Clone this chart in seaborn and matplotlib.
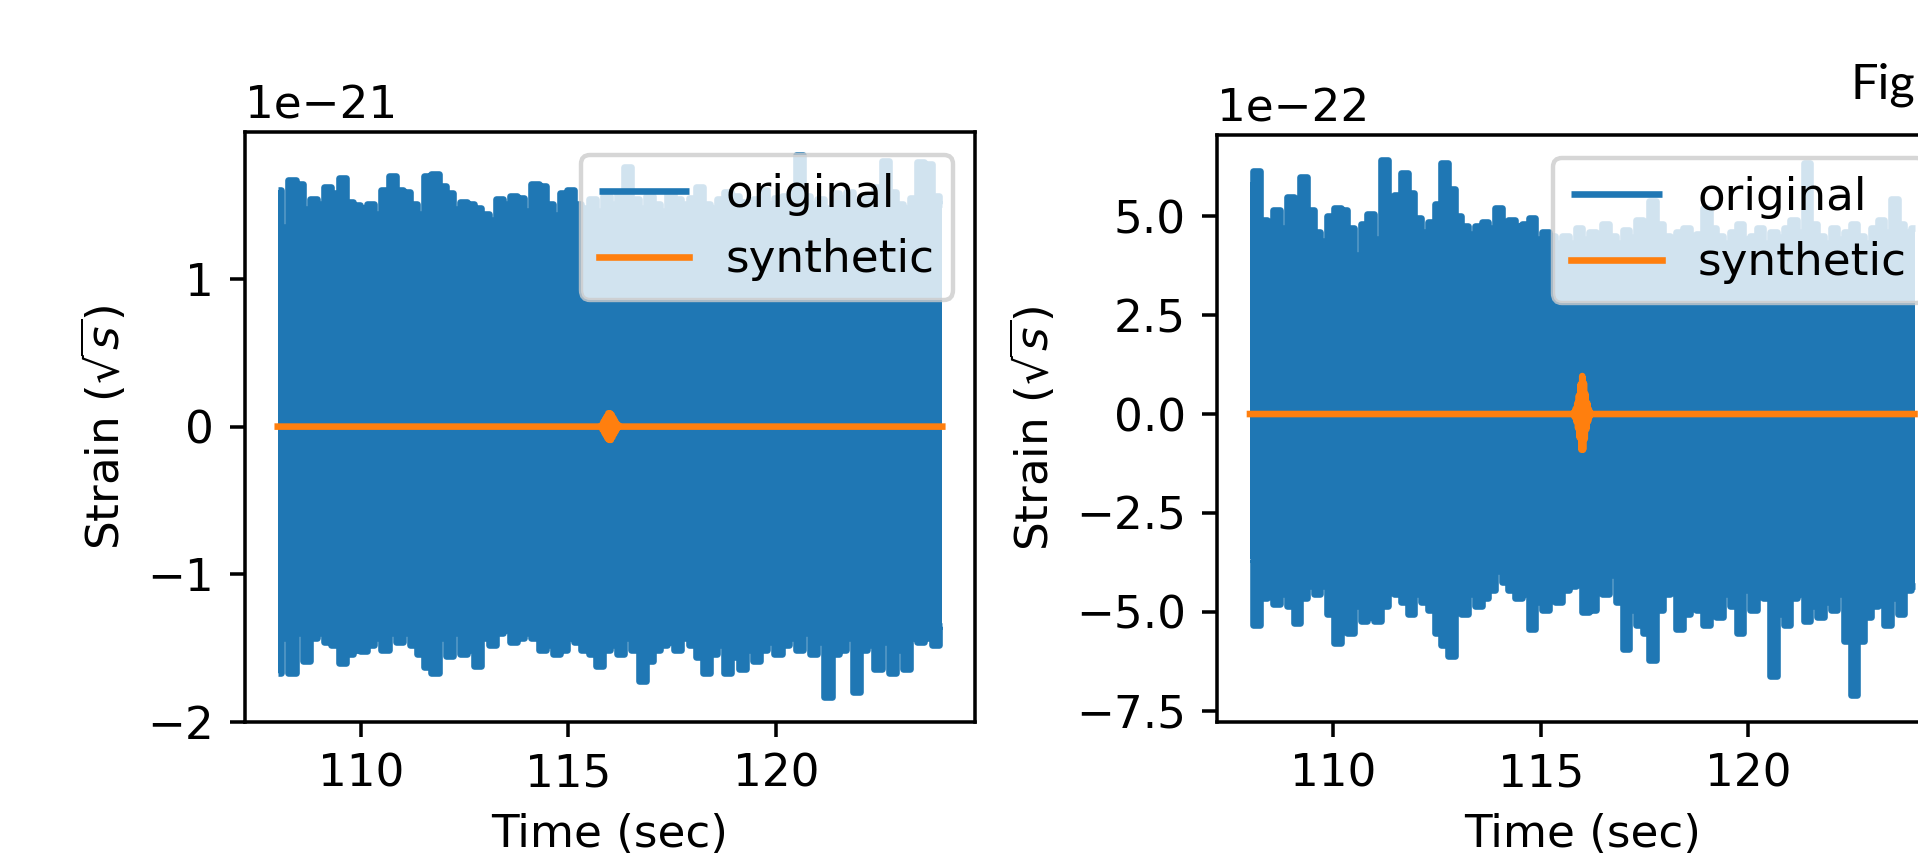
import numpy as np
import pandas as pd
import matplotlib
matplotlib.use("Agg")
import matplotlib.pyplot as plt
import seaborn as sns

# ---------------- data ----------------
t_start, t_end = 108.0, 124.0

# left panel, units of 1e-21 : peak values of the noisy "original" strain
upper_left = [1.60, 1.35, 1.67, 1.64, 1.47, 1.54, 1.51, 1.62, 1.58, 1.68,
              1.52, 1.50, 1.48, 1.51, 1.44, 1.60, 1.70, 1.60, 1.59, 1.51,
              1.44, 1.70, 1.71, 1.63, 1.58, 1.47, 1.52, 1.51, 1.48, 1.44,
              1.40, 1.54, 1.51, 1.56, 1.55, 1.46, 1.64, 1.63, 1.51, 1.43,
              1.58, 1.60, 1.51, 1.48, 1.54, 1.46, 1.56, 1.51, 1.59, 1.76,
              1.54, 1.48, 1.56, 1.51, 1.46, 1.58, 1.54, 1.51, 1.55, 1.62,
              1.51, 1.48, 1.54, 1.59, 1.56, 1.52, 1.48, 1.54, 1.60, 1.51,
              1.55, 1.56, 1.59, 1.84, 1.56, 1.51, 1.54, 1.48, 1.58, 1.55,
              1.59, 1.51, 1.54, 1.56, 1.62, 1.80, 1.59, 1.51, 1.48, 1.55,
              1.79, 1.78, 1.56, 1.51]
lower_left = [-1.67, -1.43, -1.67, -1.40, -1.59, -1.43, -1.40, -1.46, -1.48,
              -1.60, -1.54, -1.51, -1.52, -1.48, -1.43, -1.51, -1.40, -1.46, -1.40,
              -1.48, -1.54, -1.63, -1.67, -1.43, -1.55, -1.40, -1.54, -1.51, -1.62,
              -1.43, -1.48, -1.40, -1.38, -1.46, -1.43, -1.40, -1.43, -1.51, -1.48,
              -1.54, -1.51, -1.43, -1.46, -1.51, -1.54, -1.62, -1.51, -1.48, -1.54,
              -1.43, -1.51, -1.72, -1.59, -1.51, -1.48, -1.46, -1.51, -1.43, -1.48,
              -1.56, -1.67, -1.54, -1.48, -1.67, -1.56, -1.64, -1.51, -1.59, -1.51,
              -1.46, -1.54, -1.48, -1.43, -1.51, -1.40, -1.54, -1.46, -1.83, -1.54,
              -1.51, -1.43, -1.80, -1.51, -1.48, -1.64, -1.46, -1.67, -1.51, -1.64,
              -1.43, -1.46, -1.43, -1.48, -1.35]

# right panel, units of 1e-22
upper_right = [5.79, 6.13, 4.90, 4.36, 5.15, 4.70, 5.49, 5.15, 5.98, 5.15,
               4.61, 4.36, 5.00, 5.20, 5.15, 4.70, 4.02, 4.80, 5.05, 4.41,
               6.43, 4.70, 5.54, 6.08, 5.59, 4.95, 4.61, 4.85, 5.30, 6.33,
               5.69, 5.00, 4.75, 4.56, 4.75, 4.85, 4.70, 5.20, 4.41, 4.90,
               4.75, 4.80, 4.95, 4.41, 4.61, 4.51, 4.31,
               4.51, 4.31, 4.70, 4.41, 4.61, 4.21, 4.80, 4.51, 4.31, 4.66,
               4.46, 4.90, 4.70, 5.39, 4.80, 4.51, 4.31, 4.61, 4.70, 4.41,
               4.56, 5.20, 4.70, 4.51, 4.31, 4.61, 4.80, 4.41, 4.51, 4.70,
               4.31, 4.61, 4.46, 4.70, 4.90, 4.61, 6.33, 4.80, 4.51, 4.31,
               4.70, 4.41, 4.61, 4.80, 4.51, 4.31, 4.70, 4.90, 4.61, 5.44,
               4.80, 4.61, 4.70]
lower_right = [-3.66, -5.33, -4.65, -4.55, -4.79, -4.55, -4.84, -5.29, -4.65, -4.35,
               -4.55, -4.35, -5.04, -5.78, -4.30, -5.53, -4.84, -5.24, -5.14, -5.24,
               -4.84, -3.96, -4.55, -4.74, -5.04, -4.55, -4.74, -4.94, -5.53, -5.83,
               -6.12, -4.74, -5.04, -4.55, -4.84, -4.65, -4.45, -3.96, -4.25, -4.45,
               -4.65, -4.55, -5.43, -4.74, -4.94, -4.55, -4.74, -4.45, -4.35, -3.96,
               -4.99, -4.94, -3.96, -4.55, -4.06, -4.74, -5.93, -4.94, -5.33, -5.53,
               -6.22, -4.94, -4.55, -4.06, -5.43, -5.04, -4.55, -4.94, -5.33, -4.74,
               -5.14, -4.55, -4.84, -5.53, -4.45, -4.94, -4.15, -4.65, -6.61, -5.04,
               -5.33, -4.65, -4.55, -5.24, -4.84, -5.14, -4.74, -4.94, -4.55, -5.73,
               -7.11, -5.73, -5.14, -4.84, -4.55, -5.33, -4.65, -5.04, -4.45, -4.35]

# synthetic signal: zero everywhere except a short burst around 116 s
synth_t = [108.0,
           115.78, 115.80, 115.82, 115.84, 115.86, 115.88, 115.90, 115.92,
           115.94, 115.96, 115.98, 116.00, 116.02, 116.04, 116.06, 116.08,
           116.10, 116.12, 116.14, 116.16, 116.18, 116.20, 116.22,
           124.0]
synth_left = [0.0,
              0.00, 0.01, -0.02, 0.03, -0.04, 0.05, -0.06, 0.07,
              -0.08, 0.09, -0.09, 0.09, -0.09, 0.08, -0.07, 0.06,
              -0.05, 0.04, -0.03, 0.02, -0.01, 0.01, 0.00,
              0.0]
synth_right = [0.0,
               0.00, 0.04, -0.08, 0.13, -0.19, 0.27, -0.36, 0.47,
               -0.60, 0.75, -0.90, 0.96, -0.90, 0.78, -0.63, 0.50,
               -0.38, 0.28, -0.19, 0.12, -0.06, 0.03, 0.00,
               0.0]

xticks = [110, 115, 120]
ylabel = r"Strain ($\sqrt{s}$)"
xlabel = "Time (sec)"

# ---------------- figure ----------------
W, H = 1918, 863
DPI = 316.8
plt.rcParams["font.size"] = 10.3
BLUE, ORANGE = "#1f77b4", "#ff7f0e"

fig = plt.figure(figsize=(W / DPI + 1e-6, H / DPI + 1e-6), dpi=DPI)
fig.patch.set_facecolor("white")

ax1 = fig.add_axes([0.1275, 0.1634, 0.3811, 0.6837])
ax2 = fig.add_axes([0.6344, 0.1634, 0.3811, 0.6802])

panels = [
    (ax1, upper_left, lower_left, synth_left, 1e-21, (-2.0e-21, 1.995e-21)),
    (ax2, upper_right, lower_right, synth_right, 1e-22, (-7.78e-22, 7.05e-22)),
]

for ax, up, lo, syn, scale, ylim in panels:
    n = min(len(up), len(lo))
    t = np.linspace(t_start, t_end, n)
    up_v = np.array(up[:n]) * scale
    lo_v = np.array(lo[:n]) * scale

    # body of the noisy strain trace (dense signal -> stepped envelope)
    ax.fill_between(t, lo_v, up_v, step="mid", facecolor=BLUE,
                    edgecolor="none", zorder=2)
    sns.lineplot(x=t, y=up_v, ax=ax, color=BLUE, linewidth=1.5,
                 estimator=None, sort=False, label="original", zorder=2,
                 drawstyle="steps-mid", solid_capstyle="butt")
    sns.lineplot(x=t, y=lo_v, ax=ax, color=BLUE, linewidth=1.5,
                 estimator=None, sort=False, label="_nolegend_", zorder=2,
                 drawstyle="steps-mid", solid_capstyle="butt")

    df_s = pd.DataFrame({"t": synth_t, "strain": np.array(syn) * scale})
    sns.lineplot(data=df_s, x="t", y="strain", ax=ax, color=ORANGE,
                 linewidth=1.5, estimator=None, sort=False, label="synthetic",
                 zorder=3)
    ax.set_xlim(107.2, 124.8)
    ax.set_ylim(*ylim)
    ax.set_xticks(xticks)
    ax.set_xlabel(xlabel)
    ax.set_ylabel(ylabel)
    ax.legend(loc="upper right")

fig.text(1850 / W, 1 - 98 / H, "Fig", fontfamily="Lato", fontsize=11.1,
         va="baseline", ha="left", color="black")

fig.savefig("out.png", dpi=DPI, facecolor="white")
